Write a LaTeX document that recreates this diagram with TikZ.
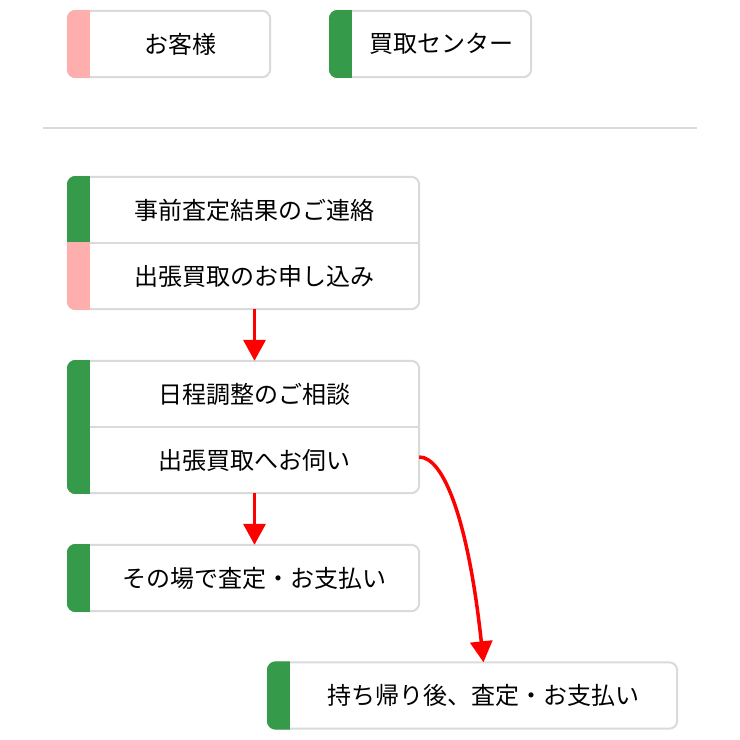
\documentclass[tikz,border=0pt]{standalone}
\usepackage{fontspec}
\setmainfont{Noto Sans CJK JP}
\usetikzlibrary{arrows.meta}

\definecolor{barGreen}{HTML}{359A4A}
\definecolor{barPink}{HTML}{FFAEAE}
\definecolor{lineGray}{HTML}{DADADA}

\tikzset{
  stepText/.style={minimum width=#1, minimum height=66pt, inner sep=0pt,
                   font=\fontsize{24}{29}\selectfont},
  boxLine/.style={draw=lineGray, line width=2pt, rounded corners=8pt},
  flowArrow/.style={draw=red, line width=3.5pt,
                    -{Triangle[length=21pt,width=22pt]}}
}

% outline round the nodes #1 (top) to #2 (bottom), bar included
\newcommand{\stepFrame}[2]{
  \draw[boxLine] ([xshift=-22pt]#1.north west) rectangle (#2.south east);
}
% coloured bar #4 left of node #3, cut to the outline of #1..#2
\newcommand{\stepBar}[4]{
  \begin{scope}
    \clip[rounded corners=9pt] ([xshift=-23pt,yshift=1pt]#1.north west)
      rectangle ([xshift=1pt,yshift=-1pt]#2.south east);
    \fill[#4] ([xshift=-23pt,yshift=1pt]#3.north west)
      rectangle ([yshift=-1pt]#3.south west);
  \end{scope}
}

\begin{document}
\begin{tikzpicture}[x=1pt,y=-1pt]
\useasboundingbox (0,0) rectangle (740,740);

% Legend
\node[stepText=180pt] (guest) at (180,44) {お客様};
\node[stepText=179pt] (shop) at (441.5,44) {買取センター};
\stepFrame{guest}{guest}
\stepBar{guest}{guest}{guest}{barPink}
\stepFrame{shop}{shop}
\stepBar{shop}{shop}{shop}{barGreen}

\coordinate (ruleL) at (43,128);
\coordinate (ruleR) at (697,128);
\draw[lineGray, line width=2pt] (ruleL) -- (ruleR);

% Steps
\node[stepText=329pt] (report) at (254.5,210) {事前査定結果のご連絡};
\node[stepText=329pt] (apply) at (254.5,276) {出張買取のお申し込み};
\stepFrame{report}{apply}
\draw[lineGray, line width=2pt] (report.south west) -- (report.south east);
\stepBar{report}{apply}{report}{barGreen}
\stepBar{report}{apply}{apply}{barPink}

\node[stepText=329pt] (schedule) at (254.5,394) {日程調整のご相談};
\node[stepText=329pt] (visit) at (254.5,460) {出張買取へお伺い};
\stepFrame{schedule}{visit}
\draw[lineGray, line width=2pt] (schedule.south west) -- (schedule.south east);
\stepBar{schedule}{visit}{schedule}{barGreen}
\stepBar{schedule}{visit}{visit}{barGreen}

\node[stepText=329pt] (onsite) at (254.5,578) {その場で査定・お支払い};
\stepFrame{onsite}{onsite}
\stepBar{onsite}{onsite}{onsite}{barGreen}

\node[stepText=387pt] (later) at (483.5,695.5) {持ち帰り後、査定・お支払い};
\stepFrame{later}{later}
\stepBar{later}{later}{later}{barGreen}

% Arrows
\draw[flowArrow] (apply.south) -- (schedule.north);
\draw[flowArrow] (visit.south) -- (onsite.north);
\draw[flowArrow] ([yshift=3pt]visit.east) .. controls +(25,0) and +(-15,-140)
  .. (later.north);
\end{tikzpicture}
\end{document}
